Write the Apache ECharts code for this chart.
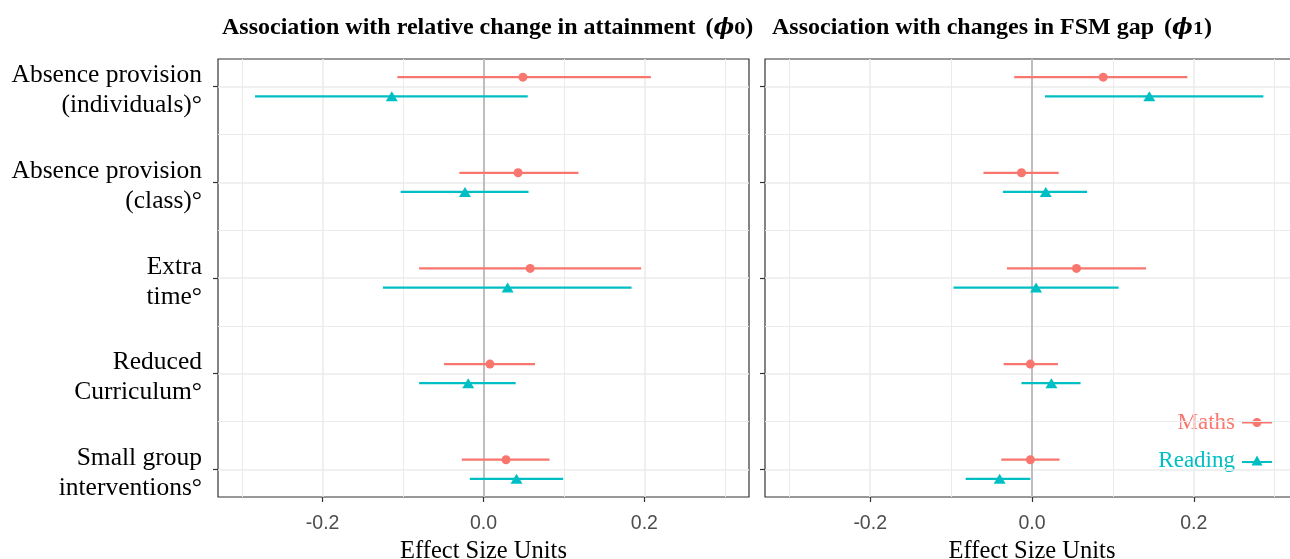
<!DOCTYPE html>
<html>
<head>
<meta charset="utf-8">
<script src="https://cdn.jsdelivr.net/npm/echarts@6/dist/echarts.min.js"></script>
<style>html,body{margin:0;padding:0;background:#fff;}#c{width:1290px;height:559px;}</style>
</head>
<body>
<div id="c"></div>
<script>
// ---- data ----
const categories = ['Absence provision\n(individuals)°', 'Absence provision\n(class)°', 'Extra\ntime°', 'Reduced\nCurriculum°', 'Small group\ninterventions°'];
const xTicks = [-0.2, 0, 0.2];
const xMinor = [-0.3, -0.1, 0.1, 0.3];
// Panel 1: relative change in attainment (phi0)
const mathsEst0 = [0.049, 0.043, 0.058, 0.008, 0.028];
const mathsLo0  = [-0.107, -0.030, -0.080, -0.049, -0.027];
const mathsHi0  = [0.208, 0.118, 0.196, 0.064, 0.082];
const readEst0  = [-0.114, -0.023, 0.030, -0.019, 0.041];
const readLo0   = [-0.284, -0.103, -0.125, -0.080, -0.017];
const readHi0   = [0.055, 0.056, 0.184, 0.040, 0.099];
// Panel 2: changes in FSM gap (phi1)
const mathsEst1 = [0.088, -0.013, 0.055, -0.002, -0.002];
const mathsLo1  = [-0.022, -0.060, -0.031, -0.035, -0.038];
const mathsHi1  = [0.192, 0.033, 0.141, 0.032, 0.034];
const readEst1  = [0.145, 0.017, 0.005, 0.024, -0.040];
const readLo1   = [0.016, -0.036, -0.097, -0.013, -0.082];
const readHi1   = [0.286, 0.068, 0.107, 0.060, -0.002];

const MATHS = '#F8766D', READ = '#00BFC4';
const DODGE = 0.1;
const LABEL_NUDGE = 0.042;
const catPos = categories.map((c, i) => i + 1);
const catMinor = catPos.slice(0, -1).map(v => v + 0.5);

function barSeries(name, lo, hi, off, color, idx) {
  return {
    type: 'custom', name: name, xAxisIndex: idx, yAxisIndex: idx, z: 5,
    itemStyle: {color: color},
    encode: {x: [0, 1], y: 2},
    data: lo.map((v, i) => [v, hi[i], catPos[i] + off]),
    renderItem: function (params, api) {
      const p1 = api.coord([api.value(0), api.value(2)]);
      const p2 = api.coord([api.value(1), api.value(2)]);
      return {type: 'line', shape: {x1: p1[0], y1: p1[1], x2: p2[0], y2: p2[1]},
              style: {stroke: color, lineWidth: 2.2}};
    },
    silent: true, animation: false
  };
}
function ptSeries(name, est, off, color, symbol, size, idx) {
  return {
    type: 'scatter', name: name, xAxisIndex: idx, yAxisIndex: idx, z: 6,
    symbol: symbol, symbolSize: size,
    itemStyle: {color: color, opacity: 1},
    data: est.map((v, i) => [v, catPos[i] + off]),
    silent: true, animation: false
  };
}
function gridSeries(idx) {
  const ml = [];
  xTicks.forEach(v => ml.push({xAxis: v, lineStyle: {color: '#ebebeb', width: 1.5, type: 'solid'}}));
  xMinor.forEach(v => ml.push({xAxis: v, lineStyle: {color: '#ebebeb', width: 1, type: 'solid'}}));
  catPos.forEach(v => ml.push({yAxis: v, lineStyle: {color: '#ebebeb', width: 1.5, type: 'solid'}}));
  catMinor.forEach(v => ml.push({yAxis: v, lineStyle: {color: '#ebebeb', width: 1, type: 'solid'}}));
  return [{
    type: 'line', xAxisIndex: idx, yAxisIndex: idx, data: [], z: 1, silent: true, animation: false,
    markLine: {silent: true, symbol: ['none', 'none'], label: {show: false}, animation: false, data: ml}
  }, {
    type: 'line', xAxisIndex: idx, yAxisIndex: idx, data: [], z: 2, silent: true, animation: false,
    markLine: {silent: true, symbol: ['none', 'none'], label: {show: false}, animation: false,
      data: [{xAxis: 0, lineStyle: {color: '#bebebe', width: 2, type: 'solid'}}]}
  }];
}

const serif = '"Liberation Serif", "Times New Roman", serif';
const sans = '"Liberation Sans", Arial, sans-serif';

function xAxis(idx) {
  return {
    type: 'value', gridIndex: idx, min: -0.33, max: 0.33,
    splitLine: {show: false}, axisLine: {show: false, onZero: false},
    axisTick: {show: true, customValues: xTicks, length: 5, lineStyle: {color: '#333', width: 1.2}},
    axisLabel: {customValues: xTicks, formatter: v => v.toFixed(1), color: '#4d4d4d', fontFamily: sans, fontSize: 19.5, margin: 17},
    name: 'Effect Size Units', nameLocation: 'middle', nameGap: 42,
    nameTextStyle: {fontFamily: serif, fontSize: 24.5, color: '#000'}
  };
}
function yAxis(idx, labels) {
  return {
    type: 'value', gridIndex: idx, min: 0.71, max: 5.29, inverse: true,
    splitLine: {show: false}, axisLine: {show: false, onZero: false},
    axisTick: {show: true, customValues: catPos, length: 5, lineStyle: {color: '#333', width: 1.2}},
    axisLabel: {show: labels, customValues: catPos.map(v => v + LABEL_NUDGE), formatter: v => categories[Math.round(v) - 1] || '',
      fontFamily: serif, fontSize: 25.5, lineHeight: 30, color: '#000', margin: 16, align: 'right'}
  };
}

const richT = {
  t: {fontFamily: serif, fontWeight: 'bold', fontSize: 24, color: '#000', padding: [0, 0, 3, 0]},
  s: {fontFamily: serif, fontWeight: 'bold', fontSize: 24, color: '#000', padding: [0, 0, 3, 0], width: 10},
  phi: {fontFamily: '"DejaVu Serif", serif', fontWeight: 'bold', fontStyle: 'italic', fontSize: 22, color: '#000', padding: [0, 0, 3, 0]},
  sub: {fontFamily: '"DejaVu Serif", serif', fontWeight: 'bold', fontSize: 16, color: '#000'}
};

const chart = echarts.init(document.getElementById('c'), null, {renderer: 'canvas'});
chart.setOption({
  backgroundColor: '#fff',
  animation: false,
  title: [
    {left: 217, top: 11, text: '{t|Association with relative change in attainment}{s| }{t|(}{phi|ϕ}{sub|0}{t|)}', textStyle: {rich: richT}},
    {left: 767, top: 11, text: '{t|Association with changes in FSM gap}{s| }{t|(}{phi|ϕ}{sub|1}{t|)}', textStyle: {rich: richT}}
  ],
  grid: [
    {left: 218, top: 59, width: 531, height: 438, show: true, borderColor: '#333', borderWidth: 1.2, backgroundColor: '#fff', outerBoundsMode: 'none'},
    {left: 765, top: 59, width: 534, height: 438, show: true, borderColor: '#333', borderWidth: 1.2, backgroundColor: '#fff', outerBoundsMode: 'none'}
  ],
  xAxis: [xAxis(0), xAxis(1)],
  yAxis: [yAxis(0, true), yAxis(1, false)],
  legend: {
    orient: 'vertical', right: 13, top: 406, align: 'right', itemGap: 15,
    itemWidth: 30, itemHeight: 11,
    selectedMode: false,
    data: [
      {name: 'Maths', icon: 'path://M0,4.4 L30,4.4 L30,6.6 L0,6.6 Z M19.5,5.5 A4.5,4.5 0 1,1 10.5,5.5 A4.5,4.5 0 1,1 19.5,5.5 Z', textStyle: {color: MATHS}},
      {name: 'Reading', icon: 'path://M0,5.9 L30,5.9 L30,8.1 L0,8.1 Z M15,0.5 L20.5,10.5 L9.5,10.5 Z', textStyle: {color: READ}}
    ],
    textStyle: {fontFamily: serif, fontSize: 23, padding: [0, 2, 0, 0]}
  },
  series: [
    ...gridSeries(0), ...gridSeries(1),
    barSeries('Maths', mathsLo0, mathsHi0, -DODGE, MATHS, 0),
    barSeries('Reading', readLo0, readHi0, DODGE, READ, 0),
    ptSeries('Maths', mathsEst0, -DODGE, MATHS, 'circle', 9, 0),
    ptSeries('Reading', readEst0, DODGE, READ, 'triangle', [12, 10], 0),
    barSeries('Maths', mathsLo1, mathsHi1, -DODGE, MATHS, 1),
    barSeries('Reading', readLo1, readHi1, DODGE, READ, 1),
    ptSeries('Maths', mathsEst1, -DODGE, MATHS, 'circle', 9, 1),
    ptSeries('Reading', readEst1, DODGE, READ, 'triangle', [12, 10], 1)
  ]
});
</script>
</body>
</html>
